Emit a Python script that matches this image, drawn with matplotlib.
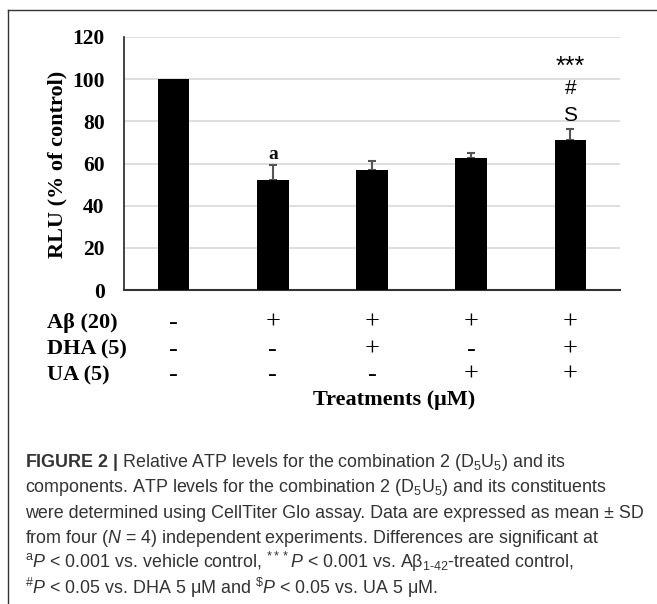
import matplotlib
matplotlib.use("Agg")
import matplotlib.pyplot as plt
from matplotlib.lines import Line2D
import numpy as np

### data ###
groups = ["ctrl", "ab", "ab_dha", "ab_ua", "ab_dha_ua"]
rlu_mean = [100.0, 52.1, 56.8, 62.5, 71.1]
rlu_sd = [0.0, 7.1, 4.3, 2.4, 5.2]
yticks = [0, 20, 40, 60, 80, 100, 120]

row_labels = ["Aβ (20)", "DHA (5)", "UA (5)"]
abeta_signs = ["-", "+", "+", "+", "+"]
dha_signs = ["-", "-", "+", "-", "+"]
ua_signs = ["-", "-", "-", "+", "+"]

caption_lines = [
  r"$\mathbf{FIGURE\ 2\ |}$ Relative ATP levels for the combination 2 (D$_5$U$_5$) and its",
  r"components. ATP levels for the combination 2 (D$_5$U$_5$) and its constituents",
  "were determined using CellTiter Glo assay. Data are expressed as mean ± SD",
  r"from four ($\mathit{N}$ = 4) independent experiments. Differences are significant at",
  r"$^{\mathrm{a}}\mathit{P}$ < 0.001 vs. vehicle control, $^{***}\mathit{P}$ < 0.001 vs. Aβ$_{1\text{-}42}$-treated control,",
  r"$^{\#}\mathit{P}$ < 0.05 vs. DHA 5 μM and $^{\$}\mathit{P}$ < 0.05 vs. UA 5 μM.",
]

plt.rcParams["mathtext.fontset"] = "custom"
plt.rcParams["mathtext.rm"] = "Liberation Sans"
plt.rcParams["mathtext.it"] = "Liberation Sans:italic"
plt.rcParams["mathtext.bf"] = "Liberation Sans:bold"

W, H = 657, 604
fig = plt.figure(figsize=(W / 100, H / 100), dpi=100)
ax = fig.add_axes([124 / W, 1 - 290 / H, 496 / W, 253 / H])

x = np.arange(len(groups))
ax.bar(x, rlu_mean, width=0.32, color="black", zorder=3)
ax.errorbar(x[1:], rlu_mean[1:], yerr=[np.zeros(4), rlu_sd[1:]], fmt="none",
            ecolor="#555555", elinewidth=1.5, capsize=3, capthick=1.5, zorder=2)

ax.set_xlim(-0.5, len(groups) - 0.5)
ax.set_ylim(0, 120)
ax.set_yticks(yticks)
ax.set_xticks([])
ax.grid(axis="y", color="#d9d9d9", lw=1.2, zorder=0)
ax.tick_params(axis="y", length=0, pad=14)
for lab in ax.get_yticklabels() :
  lab.set_fontfamily("Liberation Serif")
  lab.set_fontweight("bold")
  lab.set_fontsize(15.5)
for s in ["top", "right"] :
  ax.spines[s].set_visible(False)
ax.spines["left"].set_color("#222222")
ax.spines["left"].set_linewidth(1.2)
ax.spines["bottom"].set_color("#333333")
ax.spines["bottom"].set_linewidth(1.5)

# significance marks, placed above the error bars
top = np.array(rlu_mean) + np.array(rlu_sd)
ax.text(x[1], top[1] + 5.3, "a", ha="center", va="center", family="Liberation Serif",
        fontweight="bold", fontsize=14, color="#111111")
ax.text(x[4], top[4] + 6.7, "S", ha="center", va="center", family="Liberation Sans", fontsize=15)
ax.text(x[4], top[4] + 19.5, "#", ha="center", va="center", family="Liberation Sans", fontsize=15)
ax.text(x[4], top[4] + 29.5, "***", ha="center", va="center", family="Liberation Sans", fontsize=18)

fig.text(57 / W, 1 - 164 / H, "RLU (% of control)", rotation=90, ha="center", va="center",
         family="Liberation Serif", fontweight="bold", fontsize=16)

# treatment table under the bars
trans = ax.get_xaxis_transform()
row_y = [-0.130, -0.237, -0.336]
for signs, ry, lab in zip([abeta_signs, dha_signs, ua_signs], row_y, row_labels) :
  ax.text(-0.5 - 77 / 99.2, ry, lab, transform=trans, ha="left", va="center",
          family="Liberation Serif", fontweight="bold", fontsize=16)
  for xi, s in zip(x, signs) :
    ax.text(xi, ry, s, transform=trans, ha="center", va="center",
            family="Liberation Serif", fontsize=19)
fig.text(394 / W, 1 - 400 / H, "Treatments (μM)", ha="center", va="center",
         family="Liberation Serif", fontweight="bold", fontsize=16)

# frame (cut on the right and at the bottom)
fig.add_artist(Line2D([8 / W, 8 / W], [0, 1 - 10 / H], color="#333333", lw=1.0))
fig.add_artist(Line2D([8 / W, 1], [1 - 10 / H, 1 - 10 / H], color="#333333", lw=1.0))

# caption
base = 467
for i, line in enumerate(caption_lines) :
  fig.text(25 / W, 1 - (base + 25.3 * i) / H, line, ha="left", va="baseline",
           family="Liberation Sans", fontsize=12.9, color="#333333")

fig.savefig("out.png", dpi=100)
